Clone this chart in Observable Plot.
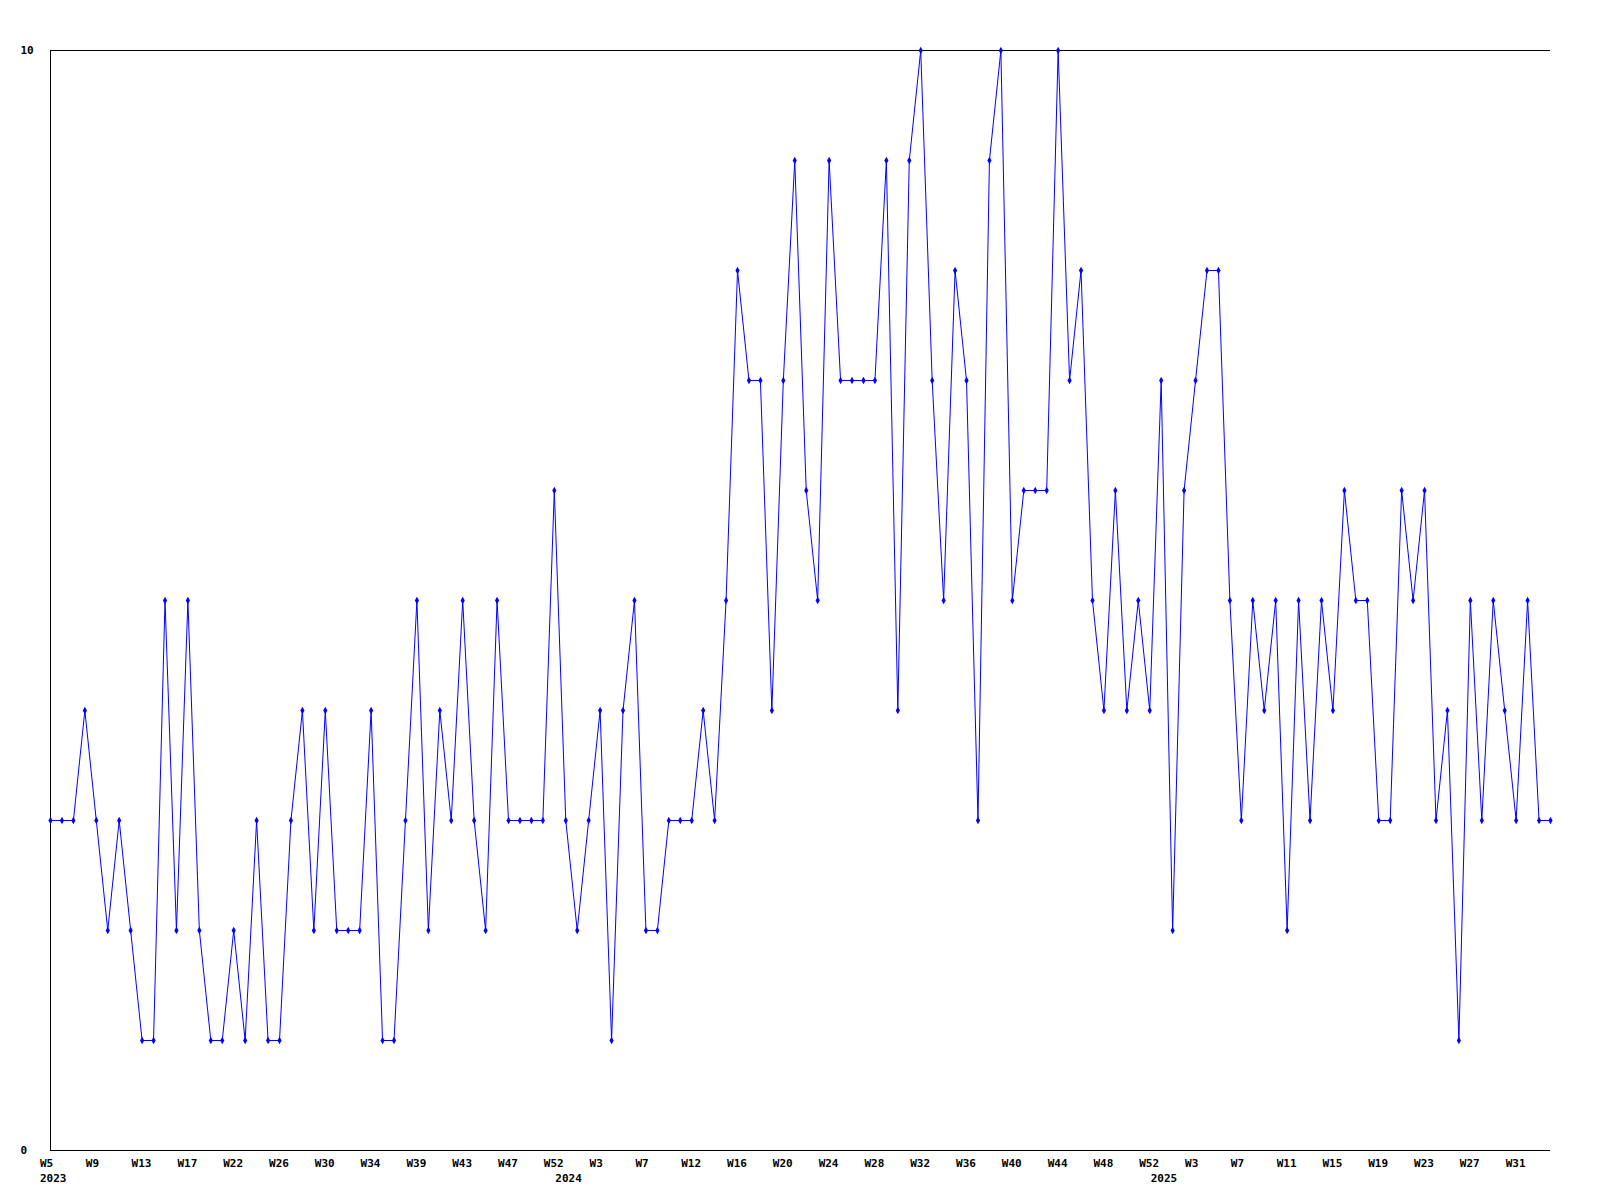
<!DOCTYPE html>
<html><head><meta charset="utf-8">
<script src="https://cdn.jsdelivr.net/npm/d3@7"></script>
<script src="https://cdn.jsdelivr.net/npm/@observablehq/plot@0.6"></script>
<style>html,body{margin:0;padding:0;background:#fff}</style>
</head><body><div id="chart"></div>
<script>
// weekly values, 2023 W5 onward (one per week category)
const values = [
  3,3,3,4,3,2,3,2,1,1,5,2,5,2,1,1,2,
  1,3,1,1,3,4,2,4,2,2,2,4,1,1,3,5,2,
  4,3,5,3,2,5,3,3,3,3,6,3,2,3,4,1,
  4,5,2,2,3,3,3,4,3,5,8,7,7,4,7,9,6,
  5,9,7,7,7,7,9,4,9,10,7,5,8,7,3,9,10,
  5,6,6,6,10,7,8,5,4,6,4,5,4,7,2,6,
  7,8,8,5,3,5,4,5,2,5,3,5,4,6,5,5,3,
  3,6,5,6,3,4,1,5,3,5,4,3,5,3,3
];
// tick labels, one every 4th week category
const tickLabels = ["W5","W9","W13","W17","W22","W26","W30","W34","W39","W43","W47","W52",
  "W3","W7","W12","W16","W20","W24","W28","W32","W36","W40","W44","W48","W52",
  "W3","W7","W11","W15","W19","W23","W27","W31"];
const tickStep = 4;
const yearLabels = ["2023","2024","2025"];
const yearIndex = [0,45,97];
const yTicks = [0,10];

const data = values.map((v,i)=>({i, v}));
const tickIdx = tickLabels.map((_,k)=>k*tickStep);
const years = yearLabels.map((t,k)=>({t, i: yearIndex[k]}));

const chart = Plot.plot({
  width:1600, height:1200,
  marginLeft:50, marginRight:50, marginTop:50, marginBottom:50,
  style:{fontFamily:"'DejaVu Sans Mono', monospace", fontWeight:"bold", fontSize:"11px", background:"#fff", color:"#000", overflow:"visible"},
  x:{domain:[0, values.length-1]},
  y:{domain:[0,10]},
  marks:[
    Plot.ruleY(yTicks, {stroke:"#000", strokeWidth:1}),
    Plot.ruleX([0], {stroke:"#000", strokeWidth:1}),
    Plot.line(data,{x:"i",y:"v",stroke:"#0000ff",strokeWidth:1}),
    Plot.dot(data,{x:"i",y:"v",symbol:"diamond",r:2.2,fill:"#0000ff",stroke:null}),
    Plot.axisY({ticks:yTicks, tickSize:0, tickPadding:30, textAnchor:"start", label:null, fill:"#000"}),
    Plot.axisX({ticks:tickIdx, tickFormat:(d)=>tickLabels[Math.round(d/tickStep)], tickSize:0, tickPadding:9, textAnchor:"start", dx:-10.5, label:null, fill:"#000"}),
    Plot.text(years,{x:"i", y:()=>0, text:"t", dy:27.5, dx:-10.5, textAnchor:"start", fill:"#000"})
  ]
});
document.getElementById("chart").appendChild(chart);
</script>
</body></html>
